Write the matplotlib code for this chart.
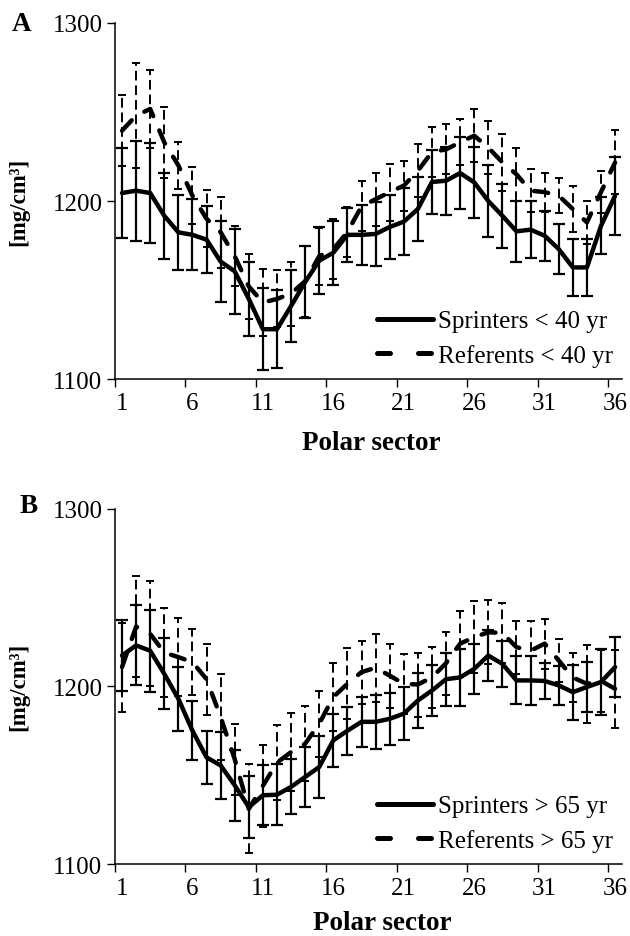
import numpy as np
import matplotlib
matplotlib.use("Agg")
from matplotlib import pyplot as plt
from matplotlib.lines import Line2D

plt.rcParams['font.family'] = ['Liberation Serif', 'DejaVu Serif']

# polar sectors 1..36
sectors = np.arange(1, 37)
tick_labels = ["1", "6", "11", "16", "21", "26", "31", "36"]

# panel A: < 40 yr
spr_a_mean = [1204.5, 1205.8, 1204.5, 1191.7, 1182.4, 1181, 1178.3, 1166, 1160.5, 1145, 1128, 1128,
              1141, 1154.5, 1166.5, 1171, 1181, 1181, 1181.5, 1185.4, 1188.4, 1195.5, 1210.7, 1211.4,
              1215.7, 1210.5, 1200, 1191.7, 1183, 1183.9, 1180.5, 1173, 1162.7, 1162.7, 1186, 1203]
spr_a_sd = [25, 28, 28, 24, 21, 20, 19, 23, 24, 21, 23, 22,
            20, 20, 19, 18, 15, 17, 18, 18, 19, 18, 18, 19,
            20, 20, 20, 18, 17, 16, 14, 14, 16, 16, 16, 22]
ref_a_mean = [1239.5, 1248, 1251.7, 1233, 1220, 1203, 1190, 1182.5, 1169, 1152, 1143, 1145,
              1148, 1155, 1169, 1173, 1182.6, 1197, 1201, 1205, 1208.6, 1217, 1227.5, 1229,
              1233, 1236.7, 1230, 1221.7, 1215, 1205.8, 1205, 1203, 1195.5, 1188, 1205, 1221.7]
ref_a_sd = [20, 29.5, 22, 20, 13, 16, 16, 20, 17, 18, 19, 16,
            18, 20, 16, 17, 14, 14, 15, 16, 14, 15, 14, 14,
            13, 15, 15, 16, 15, 12, 11, 10, 13, 12, 12, 18]

# panel B: > 65 yr
spr_b_mean = [1217.3, 1223, 1220, 1207, 1193, 1175, 1160, 1155.5, 1144.3, 1132, 1138.7, 1139,
              1143.4, 1149, 1154.6, 1169.6, 1175, 1180, 1180, 1181.7, 1184.6, 1192, 1197.6, 1204,
              1205, 1209.8, 1217.3, 1212.6, 1203.3, 1203.3, 1203, 1200.5, 1196.7, 1199.6, 1202.4, 1210.8]
spr_b_sd = [20, 22.5, 23, 20, 18, 16.5, 15, 19, 20, 17.5, 17, 17,
            15.5, 17, 17.5, 15, 13.5, 14, 15, 14.7, 15, 15.5, 14.5, 15,
            16, 14, 14.5, 13, 13.5, 14, 10, 11, 15.4, 14, 18.5, 17]
ref_b_mean = [1210.8, 1233.6, 1229.5, 1219, 1216.4, 1213.6, 1204, 1182.7, 1159, 1131, 1144, 1157,
              1163, 1167.7, 1179, 1194, 1201.4, 1208, 1210.4, 1206, 1201.4, 1201, 1205, 1213,
              1224, 1227.6, 1230.4, 1230, 1222, 1220, 1224, 1214.5, 1205, 1201.4, 1203, 1198.6]
ref_b_sd = [25, 28.4, 29.5, 25, 22, 18.4, 20, 24, 20, 25, 23, 21,
            22, 21, 18.6, 19, 20, 17.7, 19, 18, 17, 18, 17, 17.8,
            18.6, 20.4, 18, 17, 15, 17, 14, 12, 14, 22, 17.5, 22]

panels = [
    ("A", spr_a_mean, spr_a_sd, ref_a_mean, ref_a_sd, "Sprinters < 40 yr", "Referents < 40 yr"),
    ("B", spr_b_mean, spr_b_sd, ref_b_mean, ref_b_sd, "Sprinters > 65 yr", "Referents > 65 yr"),
]

fig = plt.figure(figsize=(6.3, 9.37), dpi=100)
rects = [[0.1825, 0.5944, 0.805, 0.380], [0.1825, 0.0768, 0.805, 0.3794]]
letter_pos = [(0.035, 0.974), (0.045, 0.459)]
xlab_pos = [(0.505, -0.143), (0.527, -0.129)]

dash = (0, (3.2, 3.5))
for i, (letter, sm, ss, rm, rs, lab_s, lab_r) in enumerate(panels):
    ax = fig.add_axes(rects[i])

    # sprinters: solid
    ax.errorbar(sectors, sm, yerr=ss, color="black", lw=3.2, elinewidth=1.6,
                capsize=4, capthick=1.6, solid_capstyle="round", solid_joinstyle="round", zorder=3)
    # referents: dashed, dashed error bars
    eb = ax.errorbar(sectors, rm, yerr=rs, color="black", lw=3.2, elinewidth=1.4,
                     capsize=3, capthick=1.4, zorder=2)
    eb[0].set_linestyle(dash)
    eb[0].set_dash_capstyle("round")
    eb[2][0].set_linestyle((0, (5, 2.5)))

    ax.set_xlim(0.5, 36.5)
    ax.set_ylim(1100, 1300)
    ax.set_yticks([1100, 1200, 1300])
    ax.set_xticks(np.arange(0.5, 36, 5))
    ax.set_xticklabels([])
    ax.set_xticks(np.arange(1, 37, 5), minor=True)
    ax.set_xticklabels(tick_labels, minor=True)
    ax.tick_params(axis="x", which="major", length=6, width=1, direction="out")
    ax.tick_params(axis="x", which="minor", length=0, pad=9, labelsize=18)
    ax.tick_params(axis="y", length=6, width=1, direction="out", pad=3, labelsize=18)
    for s in ["top", "right"]:
        ax.spines[s].set_visible(False)
    for s in ["left", "bottom"]:
        ax.spines[s].set_linewidth(1.1)

    ax.set_xlabel("Polar sector", fontsize=19.5, fontweight="bold")
    ax.xaxis.set_label_coords(*xlab_pos[i])
    ax.set_ylabel("[mg/cm³]", fontsize=16.5, fontweight="bold")
    ax.yaxis.set_label_coords(-0.17, 0.5)

    h1 = Line2D([], [], color="black", lw=3.6, solid_capstyle="round")
    h2 = Line2D([], [], color="black", lw=3.6, linestyle=(0, (2.6, 5.6)), dash_capstyle="round")
    ax.legend([h1, h2], [lab_s, lab_r], loc="lower left", bbox_to_anchor=(0.517, 0.035),
              frameon=False, fontsize=18, handlelength=2.25, handletextpad=0.2,
              labelspacing=0.45, borderpad=0, borderaxespad=0)

    fig.text(letter_pos[i][0], letter_pos[i][1], letter, fontsize=19.5, fontweight="bold",
             ha="center", va="center")

fig.savefig("out.png", dpi=100)
